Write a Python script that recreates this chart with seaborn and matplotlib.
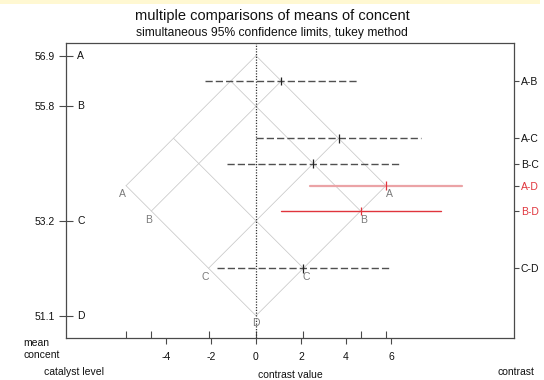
import numpy as np
import pandas as pd
import seaborn as sns
import matplotlib
matplotlib.use("Agg")
import matplotlib.pyplot as plt
from matplotlib.patches import Rectangle
from matplotlib.ticker import FixedLocator
import matplotlib.transforms as mtransforms

# catalyst level means of concent
levels = ["A", "B", "C", "D"]
means = [56.9, 55.775, 53.233, 51.125]
mean_labels = ["56.9", "55.8", "53.2", "51.1"]

# pairwise contrasts with Tukey simultaneous 95% limits
contrasts = ["A-B", "A-C", "B-C", "A-D", "B-D", "C-D"]
estimates = [1.125, 3.667, 2.542, 5.775, 4.650, 2.108]
lower = [-2.26, -0.01, -1.31, 2.40, 1.09, -1.74]
upper = [4.51, 7.35, 6.40, 9.15, 8.21, 5.96]

x_ticks = [-4, -2, 0, 2, 4, 6]

sns.set_theme(style="white")
plt.rcParams["font.family"] = ["Liberation Sans", "DejaVu Sans"]

W, H = 544, 380
fig = plt.figure(figsize=(W / 100, H / 100), dpi=100)
fig.patches.append(Rectangle((0, 1 - 4 / H), 540 / W, 4 / H, transform=fig.transFigure,
                             facecolor="#fff8d2", edgecolor="none", zorder=0))

ax = fig.add_axes([66 / W, (H - 338.3) / H, 448.3 / W, 295 / H])
ax.set_xlim(-8.444, 11.48)
ax.set_ylim(50.623, 57.175)

pos = dict(zip(levels, means))
frame_col = "#4a4a4a"
grid_col = "#c8c8c8"
red = "#e0343c"
pink = "#eba3a6"

# isomeans lattice: one line per level in each direction
m_hi, m_lo = max(means), min(means)
for m in means:
    ax.plot([m - m_hi, m - m_lo], [(m + m_hi) / 2, (m + m_lo) / 2], color=grid_col, lw=0.55, zorder=1)
    ax.plot([m_hi - m, m_lo - m], [(m + m_hi) / 2, (m + m_lo) / 2], color=grid_col, lw=0.55, zorder=1)

# zero reference line
ax.axvline(0, color="#333333", lw=0.9, ls=(0, (1, 1.2)), zorder=2)

# contrast heights: average of the two means
heights = []
for c in contrasts:
    a, b = c.split("-")
    heights.append((pos[a] + pos[b]) / 2)

df = pd.DataFrame({"contrast": contrasts, "estimate": estimates, "lower": lower,
                   "upper": upper, "height": heights})
df["signif"] = (df["lower"] > 0) | (df["upper"] < 0)

for _, r in df.iterrows():
    if r["signif"]:
        col = pink if r["contrast"] == "A-D" else red
        lw = 1.6 if r["contrast"] == "A-D" else 1.0
        ax.plot([r["lower"], r["upper"]], [r["height"]] * 2, color=col, lw=lw, zorder=3)
    else:
        ax.plot([r["lower"], r["upper"]], [r["height"]] * 2, color="#505050", lw=1.0,
                ls=(0, (5.2, 2.2)), zorder=3)

sns.scatterplot(data=df, x="estimate", y="height", hue="signif",
                palette={False: "#222222", True: red}, marker="|", s=40,
                linewidth=0.9, legend=False, ax=ax, zorder=4)

# letters at the lattice vertices along the lower edges
px = 0.72
letter_col = "#7a7a7a"
for lv, m in zip(levels, means):
    if m == m_lo:
        ax.annotate(lv, (0, m), xytext=(0, -7.8 * px), textcoords="offset points",
                    ha="center", va="center", fontsize=7.5, color=letter_col)
        continue
    d = m - m_lo
    h = (m + m_lo) / 2
    ax.annotate(lv, (d, h), xytext=(3.3 * px, -8.5 * px), textcoords="offset points",
                ha="center", va="center", fontsize=7.5, color=letter_col)
    ax.annotate(lv, (-d, h), xytext=(-3.3 * px, -8.5 * px), textcoords="offset points",
                ha="center", va="center", fontsize=7.5, color=letter_col)

for s in ax.spines.values():
    s.set_color(frame_col)
    s.set_linewidth(0.9)

# left axis: level means
ax.set_yticks(means)
ax.set_yticklabels(mean_labels)
ax.tick_params(axis="y", direction="inout", length=9.4, width=0.8, color=frame_col,
               labelsize=7.5, pad=3.2, left=True, labelcolor="#111111")
ytr = mtransforms.blended_transform_factory(ax.transAxes, ax.transData)
for lv, m in zip(levels, means):
    ax.text(11 / 448.3, m, lv, transform=ytr, ha="left", va="center", fontsize=7.5, color="#111111")

# bottom axis: contrast values, with inner ticks at the lattice vertices
ax.set_xticks(x_ticks)
ax.set_xticklabels([str(v) for v in x_ticks])
vert = sorted({0.0} | {m - m_lo for m in means} | {m_lo - m for m in means})
ax.xaxis.set_minor_locator(FixedLocator(vert))
ax.xaxis.remove_overlapping_locs = False
ax.tick_params(axis="x", which="major", direction="out", length=4.3, width=0.8,
               color=frame_col, labelsize=7.5, pad=5.5, bottom=True, labelcolor="#111111")
ax.tick_params(axis="x", which="minor", direction="in", length=4.7, width=0.8,
               color=frame_col, bottom=True)
ax.set_xlabel("")
ax.set_ylabel("")

# right axis: contrast names
ax2 = ax.twinx()
ax2.set_ylim(ax.get_ylim())
ax2.set_yticks(heights)
ax2.set_yticklabels(contrasts)
ax2.tick_params(axis="y", direction="out", length=3.4, width=0.8, color=frame_col,
                labelsize=7.5, pad=1.2, right=True)
for lab, sig in zip(ax2.get_yticklabels(), df["signif"]):
    lab.set_color(red if sig else "#111111")
for s in ax2.spines.values():
    s.set_visible(False)
ax2.set_ylabel("")

# titles and axis captions
fig.text(0.5, 1 - 16 / H, "multiple comparisons of means of concent", ha="center",
         va="center", fontsize=10.5, color="#111111")
fig.text(0.5, 1 - 33 / H, "simultaneous 95% confidence limits, tukey method", ha="center",
         va="center", fontsize=8.7, color="#111111")
fig.text(23 / W, 1 - 343 / H, "mean", ha="left", va="center", fontsize=7.5, color="#111111")
fig.text(23 / W, 1 - 355 / H, "concent", ha="left", va="center", fontsize=7.5, color="#111111")
fig.text(44 / W, 1 - 372 / H, "catalyst level", ha="left", va="center", fontsize=7.5, color="#111111")
fig.text(290 / W, 1 - 370 / H, "contrast value", ha="center", va="top", fontsize=7.5, color="#111111")
fig.text(498 / W, 1 - 372 / H, "contrast", ha="left", va="center", fontsize=7.5, color="#111111")

fig.savefig("out.png", dpi=100)
